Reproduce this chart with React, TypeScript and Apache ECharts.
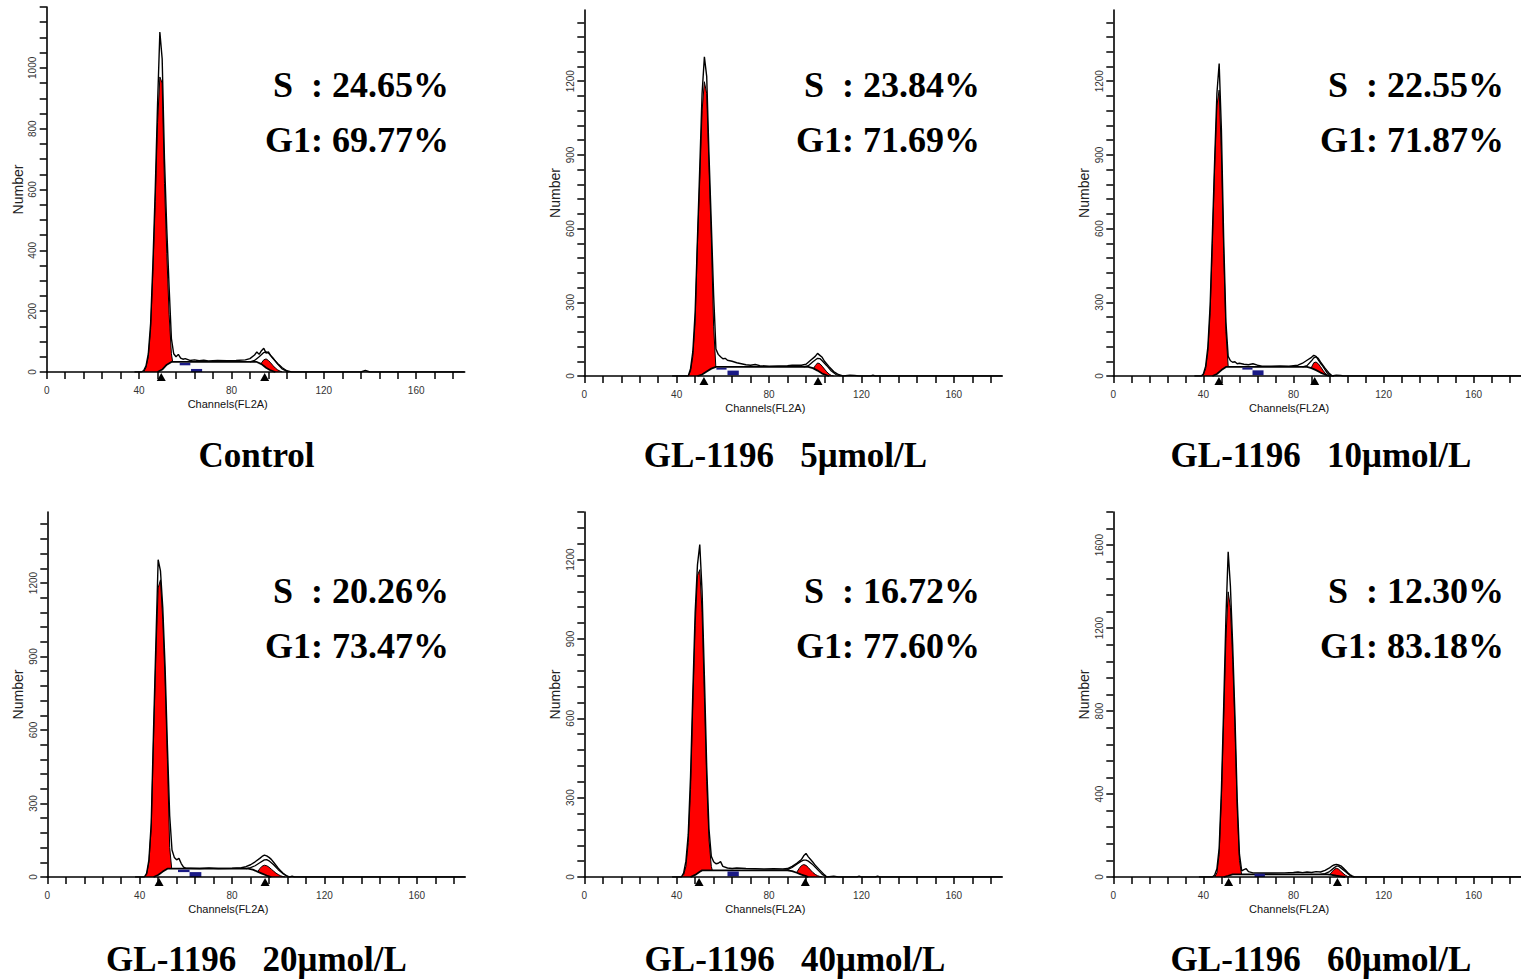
import React, { useEffect, useRef } from 'react';
import * as echarts from 'echarts';

// ---------- DATA ----------
const titles = ['Control', 'GL-1196   5μmol/L', 'GL-1196   10μmol/L', 'GL-1196   20μmol/L', 'GL-1196   40μmol/L', 'GL-1196   60μmol/L'];
const sPercent = ['24.65%', '23.84%', '22.55%', '20.26%', '16.72%', '12.30%'];
const g1Percent = ['69.77%', '71.69%', '71.87%', '73.47%', '77.60%', '83.18%'];

const xMax = 181;
const xTickStep = 8;
const xLabelValues = [0, 40, 80, 120, 160];
const yMaxes = [1200, 1490, 1490, 1490, 1380, 1760];
const yTickSteps = [50, 60, 60, 60, 60, 80];
const yLabelValues = [
  [0, 200, 400, 600, 800, 1000],
  [0, 300, 600, 900, 1200],
  [0, 300, 600, 900, 1200],
  [0, 300, 600, 900, 1200],
  [0, 300, 600, 900, 1200],
  [0, 400, 800, 1200, 1600],
];

// raw histogram outlines [channel, count]
const hist1 = [[38,0],[41,0],[42,5],[43,20],[44,60],[45,160],[46,360],[47,600],[48,880],[49,1118],[50,1030],[51,700],[52,470],[53,280],[54,110],[55,60],[56,50],[57,58],[58,46],[59,42],[60,44],[62,38],[64,40],[66,37],[68,39],[70,36],[74,38],[78,37],[82,38],[86,40],[88,44],[90,56],[91,66],[92,58],[93,70],[94,78],[95,62],[96,66],[97,54],[98,44],[100,28],[102,14],[104,4],[106,0],[136,0],[138,5],[140,0],[181,0]];
const hist2 = [[38,0],[45,0],[46,30],[47,100],[48,260],[49,560],[50,850],[51,1150],[52,1299],[53,1220],[54,900],[55,620],[56,330],[57,110],[58,88],[59,78],[60,70],[61,72],[62,64],[64,60],[66,54],[68,50],[70,46],[72,44],[74,47],[76,42],[80,40],[84,41],[88,42],[90,44],[94,44],[96,48],[98,64],[100,80],[101,92],[102,84],[103,76],[104,60],[106,38],[108,18],[110,6],[112,0],[115,3],[117,2],[119,0],[124,0],[125,3],[126,0],[181,0]];
const hist3 = [[36,0],[39,0],[40,8],[41,40],[42,120],[43,290],[44,580],[45,880],[46,1150],[47,1272],[48,1000],[49,560],[50,220],[51,80],[52,62],[53,56],[54,58],[55,50],[56,52],[58,48],[60,46],[62,50],[64,44],[66,40],[70,40],[74,41],[78,40],[80,42],[82,44],[84,52],[86,64],[88,76],[89,84],[90,80],[91,66],[92,52],[93,40],[94,26],[95,12],[96,4],[97,0],[99,3],[101,2],[102,0],[181,0]];
const hist4 = [[38,0],[42,0],[43,15],[44,70],[45,220],[46,600],[47,950],[48,1295],[49,1250],[50,1100],[51,860],[52,540],[53,250],[54,110],[55,80],[56,70],[57,76],[58,55],[59,40],[60,36],[62,36],[66,35],[70,37],[74,35],[80,36],[84,38],[86,42],[88,50],[90,62],[92,76],[93,84],[94,89],[95,86],[96,80],[97,72],[98,60],[99,48],[100,36],[101,26],[102,16],[103,8],[104,2],[105,0],[106,3],[107,0],[181,0]];
const hist5 = [[38,0],[42,0],[43,15],[44,60],[45,160],[46,380],[47,700],[48,1000],[49,1180],[50,1257],[51,1080],[52,760],[53,420],[54,180],[55,78],[56,58],[57,50],[58,52],[59,58],[60,40],[62,34],[64,32],[66,34],[68,33],[70,32],[74,31],[78,30],[82,31],[86,30],[88,32],[90,40],[92,52],[94,66],[95,80],[96,89],[97,76],[98,66],[99,56],[100,44],[102,26],[104,8],[105,0],[108,3],[110,0],[118,0],[119,3],[120,0],[126,0],[127,3],[128,0],[181,0]];
const hist6 = [[38,0],[44,0],[45,10],[46,40],[47,140],[48,420],[49,820],[50,1250],[51,1568],[52,1400],[53,1120],[54,780],[55,380],[56,110],[57,30],[58,36],[59,40],[60,26],[62,20],[66,19],[70,19],[76,20],[80,22],[82,24],[84,21],[86,24],[88,22],[90,26],[92,24],[94,32],[96,44],[97,52],[98,58],[99,61],[100,58],[101,54],[102,44],[103,34],[104,22],[105,12],[106,5],[107,0],[181,0]];

// G1 fitted peak (red)
const g1Fit1 = [[42,0],[43,15],[44,50],[45,140],[46,330],[47,560],[48,820],[49,970],[50,950],[51,620],[52,390],[53,190],[54,60],[55,10],[56,0]];
const g1Fit2 = [[45,0],[46,20],[47,80],[48,220],[49,540],[50,800],[51,1080],[52,1198],[53,1150],[54,850],[55,560],[56,200],[57,30],[58,0]];
const g1Fit3 = [[39,0],[40,5],[41,30],[42,100],[43,260],[44,540],[45,850],[46,1100],[47,1164],[48,900],[49,500],[50,180],[51,40],[52,0]];
const g1Fit4 = [[42,0],[43,10],[44,60],[45,200],[46,560],[47,900],[48,1180],[49,1213],[50,1050],[51,800],[52,480],[53,120],[54,20],[55,0]];
const g1Fit5 = [[42,0],[43,8],[44,40],[45,130],[46,330],[47,650],[48,950],[49,1140],[50,1162],[51,1000],[52,680],[53,360],[54,140],[55,40],[56,5],[57,0]];
const g1Fit6 = [[45,0],[46,20],[47,110],[48,380],[49,760],[50,1150],[51,1375],[52,1300],[53,1050],[54,720],[55,330],[56,80],[57,10],[58,0]];

// S phase (white)
const sFit1 = [[48,0],[50,8],[52,24],[54,33],[91,33],[93,26],[95,14],[97,5],[99,0]];
const sFit2 = [[49,0],[51,6],[53,18],[55,30],[57,37],[97,37],[99,32],[101,22],[103,10],[105,3],[106,0]];
const sFit3 = [[44,0],[46,8],[48,24],[50,37],[86,37],[88,32],[90,24],[92,14],[94,6],[96,0]];
const sFit4 = [[46,0],[48,8],[50,22],[52,34],[87,34],[89,30],[91,22],[93,14],[95,6],[97,0]];
const sFit5 = [[46,0],[48,8],[50,20],[51,25],[88,25],[90,22],[92,16],[94,9],[96,3],[97,0]];
const sFit6 = [[49,0],[51,6],[53,13],[95,13],[97,10],[99,6],[101,3],[103,0]];

// G2 fitted peak (red)
const g2Fit1 = [[90,0],[91,6],[92,16],[93,30],[94,40],[95,43],[96,38],[97,30],[98,21],[99,13],[100,7],[101,3],[102,0]];
const g2Fit2 = [[97,0],[98,10],[99,26],[100,42],[101,53],[102,50],[103,40],[104,28],[105,17],[106,8],[107,2],[108,0]];
const g2Fit3 = [[86,0],[87,14],[88,36],[89,54],[90,57],[91,50],[92,38],[93,24],[94,12],[95,4],[96,0]];
const g2Fit4 = [[89,0],[90,8],[91,20],[92,34],[93,44],[94,48],[95,46],[96,40],[97,32],[98,24],[99,16],[100,10],[101,5],[102,2],[103,0]];
const g2Fit5 = [[90,0],[91,6],[92,18],[93,32],[94,43],[95,47],[96,44],[97,36],[98,26],[99,17],[100,10],[101,5],[102,2],[103,0]];
const g2Fit6 = [[95,0],[96,10],[97,24],[98,36],[99,42],[100,38],[101,28],[102,18],[103,9],[104,3],[105,0]];

// total fit envelope around G2 (black line)
const envFit1 = [[88,33],[90,38],[92,50],[94,64],[95,66],[96,62],[98,46],[100,26],[102,10],[104,2],[105,0]];
const envFit2 = [[95,37],[97,42],[99,58],[101,72],[102,71],[103,62],[105,42],[107,20],[109,6],[111,0]];
const envFit3 = [[84,37],[86,42],[88,62],[89,74],[90,78],[91,72],[92,58],[94,32],[96,10],[97,2],[98,0]];
const envFit4 = [[86,34],[88,38],[90,46],[92,58],[94,70],[95,71],[96,66],[98,50],[100,30],[102,14],[104,4],[105,0]];
const envFit5 = [[86,25],[88,28],[90,36],[92,48],[94,60],[95,64],[96,64],[97,60],[99,46],[101,28],[103,10],[105,0]];
const envFit6 = [[92,13],[94,16],[96,26],[98,44],[99,52],[100,52],[101,44],[103,26],[105,8],[106,2],[107,0]];

// blue region markers [x0, x1, y0, y1]
const blue1 = [[57.6,62.2,22,30],[62.5,67.3,0,10]];
const blue2 = [[57.2,61.6,26,33],[62,66.9,3,22]];
const blue3 = [[57.3,61.8,26,34],[61.8,66.7,3,23]];
const blue4 = [[56.6,61.6,20,30],[61.6,66.7,0,20]];
const blue5 = [[62,66.9,2,21]];
const blue6 = [[62.7,67.3,0,16]];

// peak position markers (channel)
const peaks1 = [49.6, 94.4];
const peaks2 = [51.8, 101.2];
const peaks3 = [46.9, 89.4];
const peaks4 = [48.4, 94.3];
const peaks5 = [49.7, 95.7];
const peaks6 = [51.2, 99.5];

const hists = [hist1, hist2, hist3, hist4, hist5, hist6];
const g1Fits = [g1Fit1, g1Fit2, g1Fit3, g1Fit4, g1Fit5, g1Fit6];
const sFits = [sFit1, sFit2, sFit3, sFit4, sFit5, sFit6];
const g2Fits = [g2Fit1, g2Fit2, g2Fit3, g2Fit4, g2Fit5, g2Fit6];
const envFits = [envFit1, envFit2, envFit3, envFit4, envFit5, envFit6];
const blues = [blue1, blue2, blue3, blue4, blue5, blue6];
const peaks = [peaks1, peaks2, peaks3, peaks4, peaks5, peaks6];

// ---------- LAYOUT ----------
const layout = [
  { left: 46.7, top: 7, height: 365, textRight: 449, textRow: 0, titleX: 256.5 },
  { left: 584.3, top: 10, height: 366, textRight: 980, textRow: 0, titleX: 785.5 },
  { left: 1113.3, top: 10, height: 366, textRight: 1504, textRow: 0, titleX: 1321 },
  { left: 47.3, top: 512, height: 365, textRight: 449, textRow: 1, titleX: 256.5 },
  { left: 584.3, top: 512, height: 365, textRight: 980, textRow: 1, titleX: 795 },
  { left: 1113.3, top: 512, height: 365, textRight: 1504, textRow: 1, titleX: 1321 },
];
const gridWidth = 418;
const rowText = [
  { s: 85, g1: 140, title: 455 },
  { s: 591, g1: 646, title: 959 },
];

const steps = (step: number, max: number) => {
  const out: number[] = [];
  for (let v = 0; v <= max + 1e-6; v += step) out.push(v);
  return out;
};

const SERIF = '"Times New Roman", "Liberation Serif", serif';
const SANS = '"Liberation Sans", Arial, sans-serif';

export default function App() {
  const ref = useRef<HTMLDivElement>(null);

  useEffect(() => {
    document.body.style.margin = '0';
    const chart = echarts.init(ref.current!, undefined, { renderer: 'svg' });

    const grid: any[] = [];
    const xAxis: any[] = [];
    const yAxis: any[] = [];
    const series: any[] = [];
    const graphic: any[] = [];

    layout.forEach((L, i) => {
      grid.push({ left: L.left, top: L.top, width: gridWidth, height: L.height, containLabel: false });
      xAxis.push({
        gridIndex: i, type: 'value', min: 0, max: xMax, z: 10,
        name: 'Channels(FL2A)', nameLocation: 'middle', nameGap: 26,
        nameTextStyle: { fontFamily: SANS, fontSize: 11, color: '#111', padding: [0, 56, 0, 0] },
        axisLine: { show: true, onZero: false, lineStyle: { color: '#000', width: 1.6 } },
        axisTick: { show: true, length: 7, lineStyle: { color: '#000', width: 1.5 }, customValues: steps(xTickStep, xMax) },
        axisLabel: { show: true, margin: 13, fontSize: 10, color: '#333', fontFamily: SANS, customValues: xLabelValues, formatter: (v: number) => String(v) },
        splitLine: { show: false },
      });
      yAxis.push({
        gridIndex: i, type: 'value', min: 0, max: yMaxes[i], z: 10,
        name: 'Number', nameLocation: 'middle', nameRotate: 90, nameGap: 22,
        nameTextStyle: { fontFamily: SANS, fontSize: 14, color: '#222' },
        axisLine: { show: true, onZero: false, lineStyle: { color: '#000', width: 1.6 } },
        axisTick: { show: true, length: 7, lineStyle: { color: '#000', width: 1.5 }, customValues: steps(yTickSteps[i], yMaxes[i]) },
        axisLabel: { show: true, rotate: 90, margin: 9, fontSize: 10, color: '#333', fontFamily: SANS, customValues: yLabelValues[i], formatter: (v: number) => String(v) },
        splitLine: { show: false },
      });
      const base = { xAxisIndex: i, yAxisIndex: i, showSymbol: false, symbol: 'none', animation: false, silent: true };
      series.push({ ...base, type: 'line', data: g1Fits[i], z: 2, lineStyle: { color: '#000', width: 1 }, areaStyle: { color: '#ff0000', opacity: 1 } });
      series.push({ ...base, type: 'line', data: g2Fits[i], z: 2, lineStyle: { color: '#000', width: 1 }, areaStyle: { color: '#ff0000', opacity: 1 } });
      series.push({ ...base, type: 'line', data: sFits[i], z: 3, lineStyle: { color: '#000', width: 1.8 }, areaStyle: { color: '#fbfbfb', opacity: 1 } });
      series.push({ ...base, type: 'line', data: envFits[i], z: 4, lineStyle: { color: '#000', width: 1.3 } });
      series.push({ ...base, type: 'line', data: hists[i], z: 5, lineStyle: { color: '#000', width: 1.4 } });
      series.push({
        xAxisIndex: i, yAxisIndex: i, type: 'custom', z: 6, silent: true,
        data: blues[i],
        encode: { x: [0, 1], y: [2, 3] },
        renderItem: (params: any, api: any) => {
          const p0 = api.coord([api.value(0), api.value(3)]);
          const p1 = api.coord([api.value(1), api.value(2)]);
          return { type: 'rect', shape: { x: p0[0], y: p0[1], width: p1[0] - p0[0], height: p1[1] - p0[1] }, style: { fill: '#1a1a86' } };
        },
      });
      series.push({
        xAxisIndex: i, yAxisIndex: i, type: 'scatter', z: 12, silent: true, clip: false,
        data: peaks[i].map((c) => [c, 0]),
        symbol: 'triangle', symbolSize: [9, 8], symbolOffset: [0, 5],
        itemStyle: { color: '#000', opacity: 1 },
      });

      const R = rowText[L.textRow];
      const font = `bold 36px ${SERIF}`;
      graphic.push({ type: 'text', x: L.textRight, y: R.s, style: { text: `S  : ${sPercent[i]}`, font, fill: '#000', align: 'right', verticalAlign: 'middle' } });
      graphic.push({ type: 'text', x: L.textRight, y: R.g1, style: { text: `G1: ${g1Percent[i]}`, font, fill: '#000', align: 'right', verticalAlign: 'middle' } });
      graphic.push({ type: 'text', x: L.titleX, y: R.title, style: { text: titles[i], font: `bold 35px ${SERIF}`, fill: '#000', align: 'center', verticalAlign: 'middle' } });
    });

    chart.setOption({
      animation: false,
      backgroundColor: '#ffffff',
      grid, xAxis, yAxis, series, graphic,
    });

    return () => chart.dispose();
  }, []);

  return <div ref={ref} style={{ position: 'absolute', left: 0, top: 0, width: 1521, height: 979 }} />;
}
